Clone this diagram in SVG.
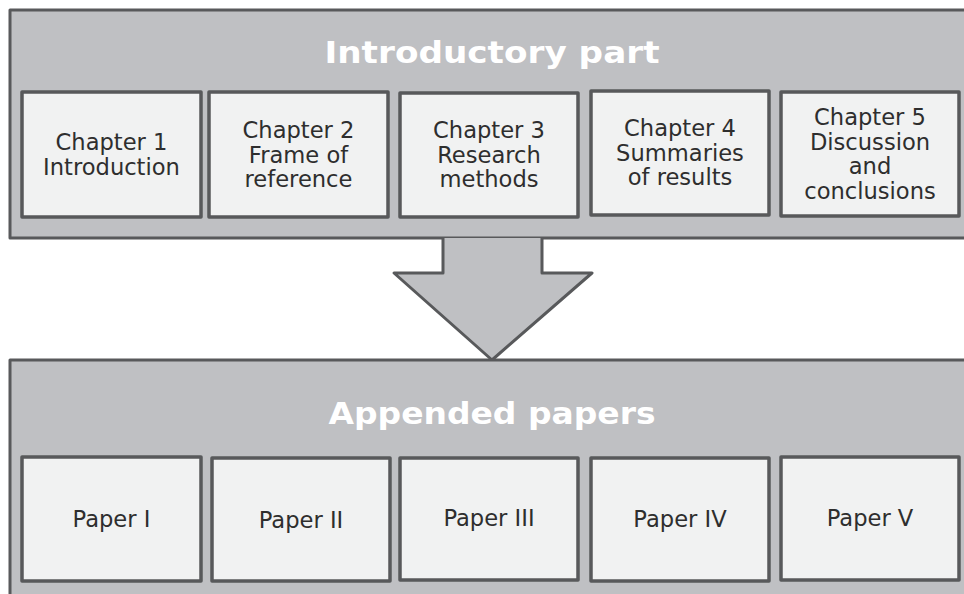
<svg xmlns="http://www.w3.org/2000/svg" width="964" height="594" viewBox="0 0 964 594">
<style>
.panel{fill:#bfc0c3;stroke:#58595b;stroke-width:3;stroke-linejoin:round}
.box{fill:#f1f2f2;stroke:#58595b;stroke-width:3.5;stroke-linejoin:round}
.t{font-family:"DejaVu Sans","Verdana",sans-serif;font-size:22.6px;fill:#2e2e2e;text-anchor:middle}
.h{font-family:"DejaVu Sans","Verdana",sans-serif;font-size:31px;font-weight:bold;fill:#ffffff;text-anchor:middle}
</style>
<rect width="964" height="594" fill="#ffffff"/>
<g id="intro-panel">
<rect class="panel" x="10" y="10" width="980" height="228"/>
<text class="h" x="492" y="63" textLength="335" lengthAdjust="spacingAndGlyphs">Introductory part</text>
</g>
<g id="connectors">
<path class="panel" d="M443,238 L443,273 L394,273 L492,360 L592,273 L542,273 L542,238"/>
</g>
<g id="appended-panel">
<rect class="panel" x="10" y="360" width="980" height="260"/>
<text class="h" x="492" y="424" textLength="327" lengthAdjust="spacingAndGlyphs">Appended papers</text>
</g>
<g id="ch1"><rect class="box" x="22" y="92" width="179" height="125"/><text class="t" x="111.5" y="150">Chapter 1</text><text class="t" x="111.5" y="174.5">Introduction</text></g>
<g id="ch2"><rect class="box" x="209" y="92" width="179" height="125"/><text class="t" x="298.5" y="138">Chapter 2</text><text class="t" x="298.5" y="162.5">Frame of</text><text class="t" x="298.5" y="187">reference</text></g>
<g id="ch3"><rect class="box" x="400" y="93" width="178" height="124"/><text class="t" x="489" y="138">Chapter 3</text><text class="t" x="489" y="162.5">Research</text><text class="t" x="489" y="187">methods</text></g>
<g id="ch4"><rect class="box" x="591" y="91" width="178" height="124"/><text class="t" x="680" y="136">Chapter 4</text><text class="t" x="680" y="160.5">Summaries</text><text class="t" x="680" y="185">of results</text></g>
<g id="ch5"><rect class="box" x="781" y="92" width="178" height="124"/><text class="t" x="870" y="125">Chapter 5</text><text class="t" x="870" y="149.5">Discussion</text><text class="t" x="870" y="174">and</text><text class="t" x="870" y="198.5">conclusions</text></g>
<g id="p1"><rect class="box" x="22" y="457" width="179" height="124"/><text class="t" x="111.5" y="527">Paper I</text></g>
<g id="p2"><rect class="box" x="212" y="458" width="178" height="123"/><text class="t" x="301" y="528">Paper II</text></g>
<g id="p3"><rect class="box" x="400" y="458" width="178" height="122"/><text class="t" x="489" y="526">Paper III</text></g>
<g id="p4"><rect class="box" x="591" y="458" width="178" height="123"/><text class="t" x="680" y="527">Paper IV</text></g>
<g id="p5"><rect class="box" x="781" y="457" width="178" height="123"/><text class="t" x="870" y="526">Paper V</text></g>
</svg>
